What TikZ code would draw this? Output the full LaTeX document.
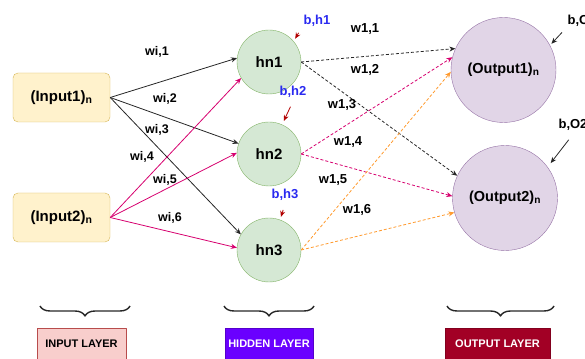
\documentclass[tikz,border=0pt]{standalone}
\usepackage{fontspec}
\setmainfont{Liberation Sans}
\usetikzlibrary{decorations.pathreplacing,arrows.meta}
\definecolor{inpfill}{HTML}{FFF2CC}
\definecolor{inpdraw}{HTML}{D6B656}
\definecolor{hidfill}{HTML}{D5E8D4}
\definecolor{hiddraw}{HTML}{82B366}
\definecolor{outfill}{HTML}{E1D5E7}
\definecolor{outdraw}{HTML}{9673A6}
\definecolor{pinkc}{HTML}{D6006E}
\definecolor{orangec}{HTML}{FF9A2E}
\definecolor{biasred}{HTML}{B20000}
\definecolor{biasblue}{HTML}{2A2AF0}
\definecolor{layinp}{HTML}{F8CECC}
\definecolor{layhid}{HTML}{6A00FF}
\definecolor{layout}{HTML}{A20025}
\begin{document}
\begin{tikzpicture}[x=1pt,y=1pt,font=\bfseries,line join=round,>={Stealth[length=6pt,width=5pt]}]
\useasboundingbox (0,0) rectangle (585,358);
\tikzset{inp/.style={draw=inpdraw,fill=inpfill,rounded corners=5pt,minimum width=97pt,minimum height=49pt,font=\fontsize{15}{15}\selectfont\bfseries},
hid/.style={circle,draw=hiddraw,fill=hidfill,minimum size=64pt,inner sep=0pt,font=\fontsize{15}{15}\selectfont\bfseries},
outp/.style={circle,draw=outdraw,fill=outfill,minimum size=105pt,inner sep=0pt,font=\fontsize{14.5}{14.5}\selectfont\bfseries},
con/.style={->,line width=0.8pt},
wt/.style={font=\fontsize{12.5}{12.5}\selectfont\bfseries},
bias/.style={font=\fontsize{13}{13}\selectfont\bfseries},
dsh/.style={dash pattern=on 3pt off 2pt},
lay/.style={minimum height=31pt,inner sep=0pt,font=\fontsize{11}{11}\selectfont\bfseries},
brc/.style={decorate,decoration={brace,amplitude=10pt,mirror},line width=1.4pt,black!85}}
% layers
\node[inp] (in1) at (61.5,260.5) {(Input1)\textsubscript{n}};
\node[inp] (in2) at (61.5,140.5) {(Input2)\textsubscript{n}};
\node[hid] (hn1) at (269,296) {hn1};
\node[hid] (hn2) at (269,204) {hn2};
\node[hid] (hn3) at (269,108) {hn3};
\node[outp] (out1) at (503.5,288) {(Output1)\textsubscript{n}};
\node[outp] (out2) at (505,160) {(Output2)\textsubscript{n}};
% input -> hidden
\foreach \h/\a in {hn1/173,hn2/161,hn3/151} \draw[con,black!85] (in1.east) -- (\h.\a);
\foreach \h/\a in {hn1/210,hn2/178,hn3/176} \draw[con,pinkc] (in2.east) -- (\h.\a);
% hidden -> output
\draw[con,dsh,black!85] (hn1.east) -- (out1.156);
\draw[con,dsh,black!85] (hn1.east) -- (out2.155);
\draw[con,dsh,pinkc] (hn2.east) -- (out1.166);
\draw[con,dsh,pinkc] (hn2.east) -- (out2.178);
\draw[con,dsh,orangec] (hn3.east) -- (out1.182);
\draw[con,dsh,orangec] (hn3.east) -- (out2.196);
% weights
\foreach \t/\x/\y [count=\i] in {wi{,}1/157/306,wi{,}2/165/259,wi{,}3/157/228,wi{,}4/142/201,wi{,}5/165/178,wi{,}6/170/140}
  \node[wt] (wi\i) at (\x,\y) {\t};
\foreach \t/\x/\y [count=\i] in {w1{,}1/365/329,w1{,}2/365/288,w1{,}3/342/253,w1{,}4/348/216,w1{,}5/333/178,w1{,}6/357/148}
  \node[wt,font=\fontsize{13}{13}\selectfont\bfseries] (wo\i) at (\x,\y) {\t};
% biases
\node[bias,biasblue] (bh1) at (317,337) {b,h1};
\node[bias,biasblue] (bh2) at (293,266) {b,h2};
\node[bias,biasblue] (bh3) at (285,163) {b,h3};
\node[bias] (bo1) at (582,337) {b,O1};
\node[bias] (bo2) at (573,233) {b,O2};
\draw[con,biasred,shorten <=3pt,shorten >=3pt] (bh1.south west) -- (hn1.40);
\draw[con,biasred,shorten <=6pt,shorten >=4pt] (bh2.south) -- (hn2.66);
\draw[con,biasred,shorten <=6pt,shorten >=3pt] (bh3.south) -- (hn3.70);
\draw[con,black!85,shorten <=3pt,shorten >=2pt] (bo1.south west) -- (out1.28);
\draw[con,black!85,shorten <=7pt,shorten >=5pt] (bo2.south) -- (out2.36);
% layer names
\node[lay,draw=red!60!black!70,fill=layinp,minimum width=89pt] (lin) at (81.5,14) {INPUT LAYER};
\node[lay,draw=layhid!80!black,fill=layhid,text=white,minimum width=88pt] (lhid) at (269,14) {HIDDEN LAYER};
\node[lay,draw=layout!80!black,fill=layout,text=white,minimum width=105pt] (lout) at (497.5,14) {OUTPUT LAYER};
\draw[brc] (40,52) -- (130,52);
\draw[brc] (224,52) -- (314,52);
\draw[brc] (447,52) -- (554,52);
\end{tikzpicture}
\end{document}
